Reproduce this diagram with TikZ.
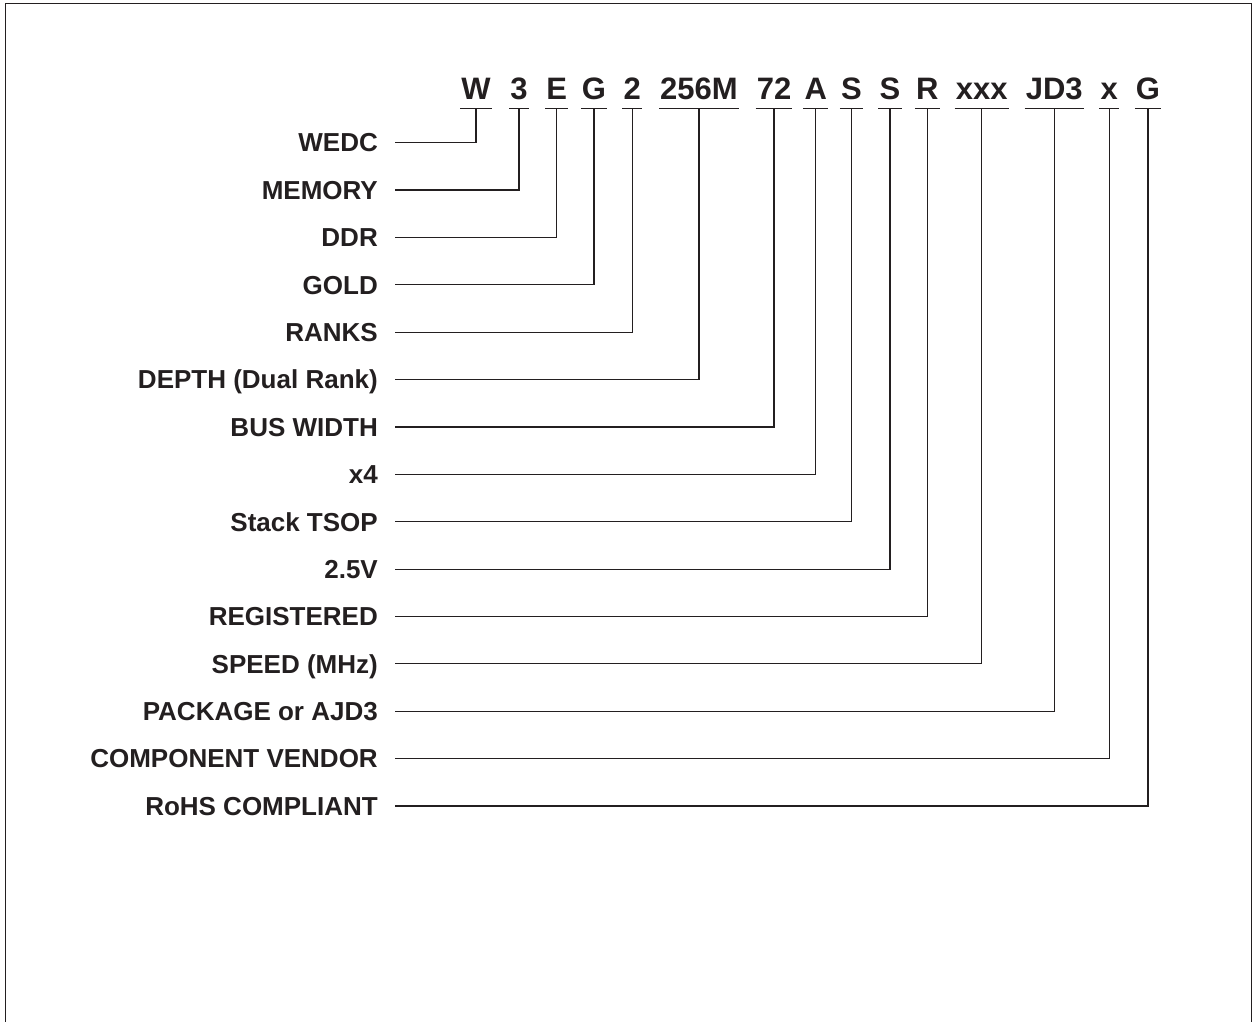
\documentclass[tikz,border=0pt]{standalone}
\usepackage{fontspec}
\setmainfont{Liberation Sans}
\definecolor{ink}{HTML}{231F20}
\begin{document}
\begin{tikzpicture}[x=1pt,y=-1pt,
  codebox/.style={anchor=base,inner xsep=1pt,inner ysep=0pt,font=\fontsize{31}{31}\selectfont\bfseries,text=ink},
  lab/.style={anchor=east,inner sep=0pt,text height=18.6pt,text depth=0pt,font=\fontsize{26}{26}\selectfont\bfseries,text=ink},
  wire/.style={draw=ink,line width=1.2pt},
  frame/.style={draw=ink,line width=1.5pt}]
\useasboundingbox (0,0) rectangle (1258,1022);
\draw[frame] (5.5,1023) -- (5.5,3.5) -- (1251.5,3.5) -- (1251.5,1023);
% code letters
\def\uy{108.3}
\foreach \n/\x/\t in {c1/476/W,c2/519/3,c3/556.7/E,c4/594/G,c5/632.3/2,c6/699/256M,c7/774/72,c8/815.7/A,c9/851.5/S,c10/890/S,c11/927.3/R,c12/981.7/xxx,c13/1054.3/JD3,c14/1109.3/x,c15/1148/G}{
  \node[codebox] (\n) at (\x,100) {\t};
  \draw[wire] (\n.west |- 0,\uy) -- (\n.east |- 0,\uy);
}
% labels
\foreach \n/\i/\t in {l1/0/WEDC,l2/1/MEMORY,l3/2/DDR,l4/3/GOLD,l5/4/RANKS,l6/5/DEPTH (Dual Rank),l7/6/BUS WIDTH,l8/7/x4,l9/8/Stack TSOP,l10/9/2.5V,l11/10/REGISTERED,l12/11/SPEED (MHz),l13/12/PACKAGE or AJD3,l14/13/COMPONENT VENDOR,l15/14/RoHS COMPLIANT}{
  \node[lab] (\n) at (378,{142.7+47.38*\i}) {\t};
}
% connectors
\foreach \k in {1,...,15}{
  \draw[wire] (c\k |- 0,\uy) |- ([xshift=17pt]l\k.east);
}
\end{tikzpicture}
\end{document}
